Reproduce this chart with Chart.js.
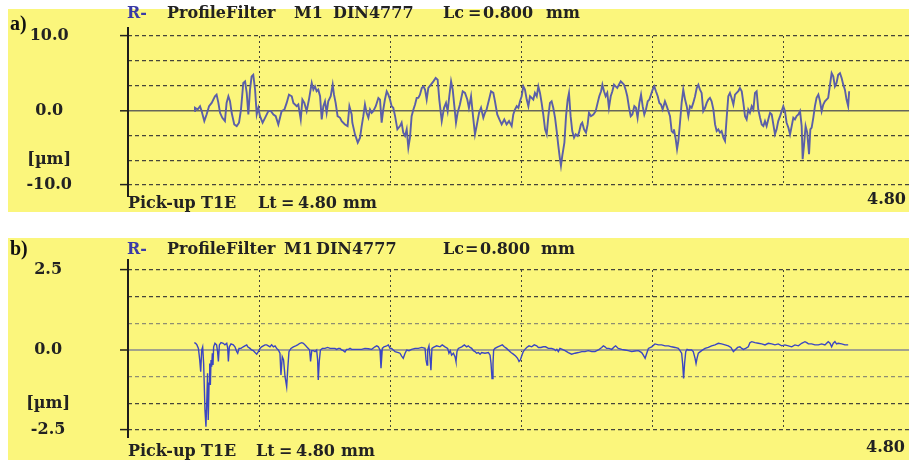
<!DOCTYPE html>
<html>
<head>
<meta charset="utf-8">
<script src="https://cdn.jsdelivr.net/npm/chart.js@4.4.1/dist/chart.umd.min.js"></script>
<style>
  html, body { margin: 0; padding: 0; background: #fff; width: 909px; height: 462px; overflow: hidden; position: relative; }
  .panel { position: absolute; left: 8px; width: 901px; background: #fbf67c; }
  canvas { position: absolute; left: 0; }
  .lbl { position: absolute; white-space: pre; font-family: "DejaVu Serif"; font-weight: bold; font-size: 16px; line-height: 16px; color: #222; }
  .tag { font-family: "Liberation Serif"; font-size: 20px; line-height: 20px; color: #111; }
</style>
</head>
<body>
<div class="panel" style="top:9px;height:203px"></div>
<div class="panel" style="top:238px;height:222px"></div>
<canvas id="chartA" width="914" height="203" style="top:9px"></canvas>
<canvas id="chartB" width="914" height="224" style="top:238px"></canvas>
<script>
// profile length axis (mm), grid every Lc = 0.8
const X_GRID = [0, 0.8, 1.6, 2.4, 3.2, 4.0, 4.8];

// a) R profile, values in µm
const Y_TICKS_A = [-10, -6.667, -3.333, 0, 3.333, 6.667, 10];
const Y_LABELS_A = ['-10.0', '[µm]', '', '0.0', '', '', '10.0'];
const X_A = [
  0.405,0.409,0.425,0.440,0.450,0.466,0.480,0.495,0.511,0.531,
  0.541,0.552,0.562,0.576,0.592,0.602,0.613,0.623,0.633,0.649,
  0.664,0.678,0.690,0.704,0.715,0.725,0.735,0.745,0.755,0.765,
  0.776,0.786,0.796,0.806,0.822,0.837,0.857,0.873,0.888,0.902,
  0.918,0.938,0.955,0.969,0.983,1.000,1.010,1.030,1.040,1.055,
  1.065,1.077,1.091,1.105,1.122,1.132,1.142,1.152,1.162,1.173,
  1.183,1.193,1.203,1.213,1.223,1.238,1.250,1.258,1.268,1.280,
  1.295,1.305,1.325,1.341,1.352,1.366,
  1.370,1.386,1.403,1.417,1.427,1.437,1.447,1.457,1.468,1.478,
  1.488,1.498,1.513,1.529,1.539,1.549,1.559,1.569,1.580,1.590,
  1.600,1.610,1.620,1.631,1.645,1.661,1.671,1.681,1.692,1.702,
  1.712,1.722,1.732,1.743,1.753,1.763,1.773,1.783,1.794,1.804,
  1.814,1.824,1.834,1.850,1.865,1.879,1.891,1.901,1.916,1.930,
  1.942,1.952,1.962,1.973,1.983,1.993,2.003,2.013,2.027,2.044,
  2.058,2.072,2.082,2.095,2.107,2.119,2.129,2.144,2.156,2.170,
  2.180,2.190,2.205,2.217,2.231,2.241,2.255,2.268,2.282,2.298,
  2.312,2.327,2.343,
  2.353,2.363,2.374,2.384,2.394,2.404,2.414,2.424,2.435,2.445,
  2.455,2.465,2.475,2.485,2.496,2.506,2.516,2.526,2.536,2.547,
  2.557,2.567,2.577,2.587,2.597,2.608,2.618,2.628,2.638,2.644,
  2.652,2.665,2.675,2.685,2.693,2.703,2.713,2.724,2.734,2.746,
  2.754,2.766,2.774,2.785,2.797,2.807,2.815,2.827,2.842,2.856,
  2.868,2.878,2.889,2.897,2.907,2.917,2.927,2.937,2.948,2.958,
  2.968,2.978,2.988,2.998,3.009,3.019,3.029,3.039,3.049,3.060,
  3.070,3.080,3.092,3.102,3.112,3.123,3.133,3.143,3.153,3.163,
  3.174,3.184,3.194,3.204,3.214,3.224,3.235,3.245,3.255,3.265,
  3.279,3.290,3.300,3.310,3.320,3.330,
  3.334,3.345,3.353,3.361,3.371,3.381,3.391,3.402,3.412,3.422,
  3.432,3.442,3.452,3.463,3.473,3.483,3.493,3.503,3.513,3.524,
  3.534,3.544,3.554,3.564,3.575,3.585,3.595,3.605,3.615,3.625,
  3.636,3.646,3.656,3.666,3.676,3.686,3.697,3.707,3.717,3.727,
  3.737,3.748,3.758,3.768,3.778,3.788,3.798,3.809,3.819,3.829,
  3.839,3.849,3.860,3.870,3.880,3.890,3.900,3.910,3.921,3.931,
  3.941,3.951,3.961,3.971,3.982,3.992,4.002,4.012,4.022,4.033,
  4.043,4.053,4.063,4.073,4.083,4.094,4.104,4.114,4.120,4.128,
  4.138,4.148,4.159,4.167,4.175,4.185,4.195,4.205,4.216,4.226,
  4.236,4.246,4.256,4.266,4.276,4.287,4.297,4.307,4.317,4.327,
  4.337,4.348,4.358,4.368,4.378,4.388,4.398,4.404
];
const Y_A = [
  -0.09,0.36,0.13,0.58,-0.09,-1.42,-0.53,0.58,1.02,1.91,
  2.13,1.02,-0.31,-0.98,-1.42,1.02,1.91,1.24,-0.31,-1.87,
  -2.09,-1.64,0.13,3.69,3.91,2.36,-0.53,2.8,4.58,4.8,
  2.8,-0.53,0.36,-0.76,-1.64,-0.98,-0.09,-0.09,-0.53,-0.76,
  -1.87,-0.09,0.13,1.02,2.13,1.91,1.02,0.58,0.8,-1.2,
  1.47,1.02,-0.09,1.47,3.69,2.8,3.24,2.58,2.8,1.91,
  -1.2,0.58,1.24,-0.31,1.24,1.91,3.47,2.13,1.02,-0.76,
  -0.98,-1.42,-1.87,-2.09,0.58,-0.53,
  -1.64,-3.2,-4.31,-3.64,-2.09,-0.76,0.8,-0.31,-0.98,0.13,
  -0.31,-0.09,0.58,1.69,1.47,-1.64,0.13,1.47,2.58,2.13,
  1.47,0.58,0.36,-0.76,-2.53,-2.09,-1.64,-2.98,-3.42,-2.53,
  -4.98,-3.64,-0.76,0.13,0.8,1.69,1.69,2.13,3.02,3.24,
  2.8,1.47,3.02,3.47,3.91,4.36,4.13,1.47,-1.42,0.36,
  1.02,-0.09,1.91,3.91,2.8,0.58,-1.64,-0.31,0.8,2.58,
  2.36,1.47,0.36,1.91,-0.76,-3.2,-2.09,-0.31,0.36,-0.98,
  -0.31,0.13,1.47,2.58,2.36,1.24,-0.53,-1.2,-1.87,-1.2,
  -1.87,-1.42,-2.09,
  -0.53,0.13,0.58,0.36,1.24,1.91,3.24,2.8,1.47,0.58,
  1.91,1.69,1.47,2.36,1.91,3.24,2.36,1.02,-0.53,-2.53,
  -3.2,-0.76,1.02,1.24,0.36,-0.98,-2.76,-4.76,-6.53,-7.42,
  -6.09,-4.31,-0.76,1.47,2.36,-0.76,-2.76,-3.64,-3.2,-3.42,
  -2.98,-1.87,-1.64,-2.53,-2.98,-1.87,-0.31,-0.76,-0.53,-0.09,
  1.02,1.91,2.58,3.47,2.58,1.91,2.36,0.36,1.91,2.58,
  3.47,3.24,3.02,3.47,3.91,3.69,3.47,2.8,1.91,0.36,
  -0.76,-0.53,0.58,0.36,-0.98,1.02,2.13,0.58,-0.53,0.13,
  1.24,1.47,2.13,2.8,3.24,2.58,1.91,1.02,0.8,0.13,
  1.24,0.58,-0.09,-0.76,-2.76,-2.98,
  -2.53,-3.87,-5.2,-4.09,-1.64,1.02,2.8,1.47,0.58,-0.76,
  0.58,0.36,1.02,1.91,3.02,3.47,2.8,2.36,-0.09,0.36,
  1.02,1.47,1.69,1.24,0.13,-1.87,-2.76,-2.53,-2.98,-2.76,
  -3.64,-4.09,-0.98,1.91,2.36,1.69,0.8,2.13,2.36,2.58,
  3.02,2.58,1.02,-0.76,-1.2,0.13,-0.31,0.58,0.13,2.36,
  2.58,0.13,-0.98,-1.87,-2.09,-1.42,-2.09,-1.2,-0.31,-0.53,
  -1.87,-3.2,-2.53,-1.42,-0.76,-0.09,0.58,-0.09,-1.64,-2.31,
  -3.2,-2.09,-0.98,-1.2,-0.76,-0.53,-0.09,-2.09,-6.53,-4.76,
  -2.09,-2.98,-5.87,-2.53,-2.31,-0.98,0.58,1.69,2.13,1.24,
  -0.09,0.8,1.24,1.47,1.69,3.47,5.02,4.58,3.24,3.69,
  4.8,5.02,4.36,3.47,2.8,1.47,0.58,2.58
];

// b) R profile, values in µm
const Y_TICKS_B = [-2.5, -1.667, -0.833, 0, 0.833, 1.667, 2.5];
const Y_LABELS_B = ['-2.5', '[µm]', '', '0.0', '', '', '2.5'];
const X_B = [
  0.405,0.413,0.421,0.430,0.438,0.444,0.450,0.456,0.462,0.470,
  0.476,0.482,0.486,0.490,0.495,0.499,0.503,0.507,0.511,0.515,
  0.519,0.523,0.531,0.541,0.547,0.552,0.558,0.568,0.582,0.592,
  0.603,0.609,0.613,0.619,0.629,0.643,0.653,0.664,0.670,0.678,
  0.690,0.704,0.714,0.725,0.731,0.745,0.755,0.765,0.776,0.786,
  0.796,0.806,0.816,0.826,0.837,0.847,0.857,0.867,0.877,0.888,
  0.898,0.908,0.918,0.928,0.934,0.942,0.950,0.959,0.969,0.975,
  0.983,0.995,1.010,1.024,1.036,1.050,1.061,1.071,1.081,1.091,
  1.101,1.109,1.115,1.122,1.132,1.142,1.152,1.158,1.162,1.168,
  1.175,1.187,1.203,1.219,1.234,1.248,1.264,1.274,1.285,1.295,
  1.305,1.315,1.325,1.335,1.346,1.356,1.366,1.386,1.407,1.427,
  1.447,1.468,1.488,1.508,1.519,1.529,1.539,1.545,1.553,1.563,
  1.580,1.590,1.600,1.610,1.620,1.631,1.651,1.661,1.671,1.681,
  1.692,1.702,1.716,
  1.732,1.753,1.773,1.794,1.814,1.820,1.826,1.830,1.838,1.844,
  1.850,1.856,1.865,1.885,1.905,1.919,1.936,1.952,1.960,1.968,
  1.976,1.987,1.997,2.003,2.009,2.017,2.038,2.054,2.068,2.078,
  2.089,2.099,2.109,2.119,2.129,2.140,2.150,2.160,2.180,2.201,
  2.211,2.217,2.223,2.229,2.233,2.241,2.258,2.272,2.286,2.298,
  2.312,2.327,2.339,2.353,2.367,2.379,2.388,2.396,2.404,2.414,
  2.424,2.435,2.449,2.465,2.481,2.496,2.506,2.522,2.536,2.550,
  2.567,2.587,2.603,2.611,2.619,2.628,2.638,2.652,2.669,2.689,
  2.709,2.730,2.750,2.771,2.791,2.811,2.832,2.852,2.872,2.893,
  2.903,2.913,2.923,2.937,2.954,2.970,2.978,2.994,3.015,3.035,
  3.055,
  3.076,3.096,3.117,3.137,3.147,3.158,3.168,3.178,3.198,3.218,
  3.239,3.259,3.280,3.300,3.320,3.341,3.361,3.371,3.381,3.387,
  3.393,3.399,3.406,3.414,3.422,3.442,3.452,3.463,3.469,3.475,
  3.483,3.503,3.524,3.544,3.564,3.585,3.605,3.625,3.646,3.666,
  3.682,3.697,3.707,3.723,3.737,3.748,3.758,3.772,3.788,3.798,
  3.809,3.829,3.849,3.870,3.890,3.910,3.931,3.951,3.971,3.992,
  4.012,4.033,4.053,4.073,4.094,4.114,4.134,4.145,4.155,4.175,
  4.195,4.216,4.236,4.256,4.276,4.287,4.297,4.307,4.317,4.327,
  4.337,4.358,4.378,4.398
];
const Y_B = [
  0.23,0.21,0.16,0.05,-0.31,-0.68,0,0.10,-0.42,-1.88,
  -2.40,-1.46,-0.73,-2.19,-1.04,-0.42,-1.09,-0.31,-0.52,-0.10,
  -0.47,0.10,0.21,0.16,-0.05,-0.36,0.16,0.23,0.21,0.16,
  0.21,0.05,-0.36,0.10,0.19,0.16,0.10,-0.05,-0.10,0.05,
  0.05,0.10,0.13,0.16,0.10,0.05,0,-0.02,-0.08,-0.13,
  -0.05,0.05,0.10,0.13,0.16,0.16,0.13,0.10,0.16,0.10,
  0.13,0.05,0,-0.10,-0.78,-0.21,-0.31,-0.83,-1.15,-0.63,
  -0.05,0.05,0.10,0.13,0.16,0.21,0.23,0.21,0.16,0.10,
  0.05,0,-0.36,-0.02,-0.02,-0.05,0,-0.31,-0.94,-0.36,
  0,0.05,0.05,0.08,0.05,0.05,0.05,0.02,0.05,0.05,
  0,-0.02,-0.06,0.02,0.02,0.05,0.02,0.02,0.02,0.02,
  0.05,0.04,0.02,0.10,0.13,0.10,0,-0.57,0.05,0.10,
  0.13,0.16,0.05,0.05,0,-0.05,-0.08,-0.10,-0.19,-0.26,
  -0.10,0,-0.02,
  0.02,0.05,0.05,0.08,0.05,-0.31,-0.47,0,0.13,-0.21,
  -0.63,0.05,0.08,0.13,0.10,0.16,0.10,0.05,-0.10,-0.02,
  -0.16,-0.10,-0.21,-0.36,-0.05,0.05,0.10,0.16,0.10,0.13,
  0.08,0.05,-0.02,-0.05,-0.10,-0.08,-0.13,-0.08,-0.10,-0.08,
  -0.16,-0.42,-0.89,-0.42,0,0.05,0.10,0.13,0.16,0.10,
  0.05,-0.02,-0.08,-0.13,-0.19,-0.26,-0.36,-0.31,-0.19,-0.05,
  0.02,0.08,0.13,0.10,0.16,0.13,0.08,0.08,0.10,0.10,
  0.05,0.05,0.02,-0.02,0.02,-0.05,0.05,0.02,-0.02,-0.08,
  -0.13,-0.10,-0.08,-0.05,-0.05,-0.02,-0.05,-0.05,0,0.08,
  0.13,0.10,0.05,0.05,0.02,0.10,0.13,0.05,0.02,0,
  -0.02,
  -0.05,-0.03,-0.02,-0.08,-0.16,-0.26,-0.10,0.05,0.10,0.19,
  0.16,0.16,0.13,0.13,0.10,0.08,0.05,-0.02,-0.10,-0.42,
  -0.89,-0.42,-0.05,0.02,0,0,-0.05,-0.26,-0.42,-0.26,
  -0.10,-0.02,0.05,0.08,0.13,0.16,0.21,0.19,0.16,0.13,
  0.08,-0.05,0,0.08,0.10,0.05,0.02,0.05,0.10,0.23,
  0.26,0.23,0.21,0.19,0.16,0.21,0.19,0.16,0.19,0.13,
  0.16,0.13,0.10,0.16,0.13,0.21,0.26,0.23,0.19,0.19,
  0.16,0.16,0.19,0.16,0.26,0.21,0.10,0.21,0.26,0.19,
  0.21,0.19,0.16,0.16
];

Chart.defaults.font.family = 'DejaVu Serif';

// solid y axis that runs a little past the plot box, like the instrument printout
const axisLine = {
  id: 'axisLine',
  afterDraw(chart, args, opts) {
    const { ctx, chartArea: { left, top, bottom } } = chart;
    ctx.save();
    ctx.strokeStyle = '#1c1c1c';
    ctx.lineWidth = 2;
    ctx.beginPath();
    ctx.moveTo(left, top - opts.above);
    ctx.lineTo(left, bottom + opts.below);
    ctx.stroke();
    ctx.restore();
  }
};

function profileChart(id, xs, ys, yTicks, yLabels, o) {
  const hasMark = i => /\d/.test(yLabels[i] || '');
  return new Chart(document.getElementById(id), {
    type: 'line',
    data: {
      datasets: [{
        data: xs.map((x, i) => ({ x: x, y: ys[i] })),
        borderColor: o.color,
        borderWidth: o.width,
        pointRadius: 0,
        tension: 0
      }]
    },
    plugins: [axisLine],
    options: {
      responsive: false,
      animation: false,
      layout: { padding: { top: o.padTop, bottom: o.padBottom, left: 0, right: 0 } },
      plugins: {
        legend: { display: false },
        tooltip: { enabled: false },
        axisLine: { above: o.above, below: o.below }
      },
      scales: {
        x: {
          type: 'linear',
          min: 0,
          max: 4.8,
          afterBuildTicks: s => { s.ticks = X_GRID.map(v => ({ value: v })); },
          afterFit: s => { s.height = 0; s.paddingLeft = 0; s.paddingRight = 0; },
          ticks: { display: false },
          grid: { color: c => c.index === 0 ? 'rgba(0,0,0,0)' : '#45453a', lineWidth: 1, drawTicks: false },
          border: { display: false, dash: [2, 3] }
        },
        y: {
          min: yTicks[0],
          max: yTicks[yTicks.length - 1],
          afterBuildTicks: s => { s.ticks = yTicks.map(v => ({ value: v })); },
          // fixed axis box; label padding must not push the plot down
          afterFit: s => { s.width = 128; s.paddingTop = 0; s.paddingBottom = 0; },
          ticks: {
            autoSkip: false,
            callback: (v, i) => yLabels[i],
            color: '#222',
            font: { family: 'DejaVu Serif', weight: 'bold', size: 16 },
            crossAlign: 'center',
            padding: o.tickPad
          },
          grid: {
            color: o.gridColor,
            lineWidth: c => c.tick && c.tick.value === 0 ? o.zeroWidth : 1.2,
            drawTicks: true,
            tickLength: 8,
            tickWidth: 1.5,
            tickColor: c => hasMark(c.index) ? '#222' : 'rgba(0,0,0,0)'
          },
          border: { display: false, dash: c => c.tick && c.tick.value === 0 ? [] : [4, 3] }
        }
      }
    }
  });
}

profileChart('chartA', X_A, Y_A, Y_TICKS_A, Y_LABELS_A, {
  color: '#5b5fa8', width: 1.9, padTop: 27, padBottom: 27, tickPad: 48,
  above: 9, below: 12, zeroWidth: 1.6,
  gridColor: c => c.tick && c.tick.value === 0 ? '#66665a' : '#45453a'
});

profileChart('chartB', X_B, Y_B, Y_TICKS_B, Y_LABELS_B, {
  color: '#3b46c2', width: 1.4, padTop: 32, padBottom: 32, tickPad: 50,
  above: 11, below: 8, zeroWidth: 2,
  gridColor: c => {
    const v = c.tick ? c.tick.value : 1;
    if (v === 0) return '#a3a38c';
    return Math.abs(v) < 1 ? '#8e8e72' : '#45453a';
  }
});

// header / footer texts, placed by left edge and baseline
function put(text, x, base, extra) {
  const d = document.createElement('div');
  d.className = 'lbl' + (extra && extra.cls ? ' ' + extra.cls : '');
  d.textContent = text;
  const fs = extra && extra.size ? extra.size : 16;
  d.style.left = x + 'px';
  d.style.top = (base - 0.845 * fs) + 'px';
  if (extra && extra.color) d.style.color = extra.color;
  document.body.appendChild(d);
}

const BLUE = '#3a3aa6';
put('a)', 10, 30, { cls: 'tag', size: 20 });
put('R-', 127, 19, { color: BLUE });
put('ProfileFilter', 167, 19);
put('M1', 294, 19);
put('DIN4777', 333, 19);
put('Lc', 443, 19);
put('=', 468, 19);
put('0.800', 483, 19);
put('mm', 546, 19);
put('Pick-up', 128, 209);
put('T1E', 201, 209);
put('Lt', 258, 209);
put('=', 281, 209);
put('4.80', 298, 209);
put('mm', 343, 209);
put('4.80', 867, 205);

put('b)', 10, 255, { cls: 'tag', size: 20 });
put('R-', 127, 255, { color: BLUE });
put('ProfileFilter', 167, 255);
put('M1', 284, 255);
put('DIN4777', 316, 255);
put('Lc', 443, 255);
put('=', 465, 255);
put('0.800', 480, 255);
put('mm', 541, 255);
put('Pick-up', 128, 457);
put('T1E', 201, 457);
put('Lt', 256, 457);
put('=', 279, 457);
put('4.80', 296, 457);
put('mm', 341, 457);
put('4.80', 866, 453);
</script>
</body>
</html>
